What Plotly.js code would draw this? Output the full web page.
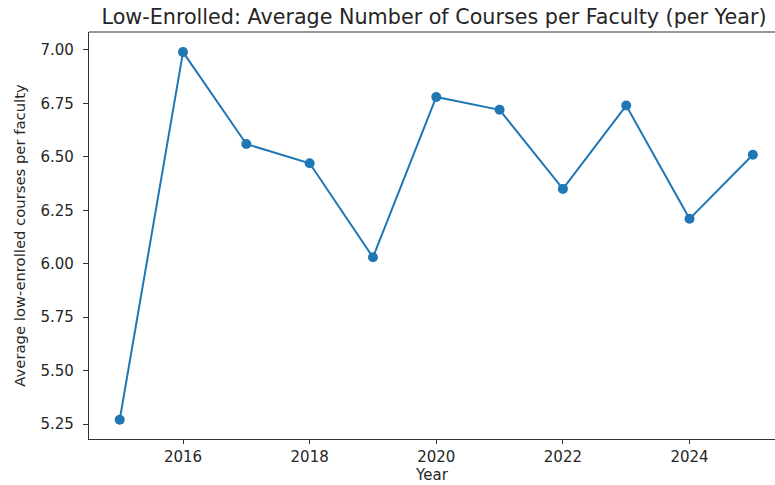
<!DOCTYPE html>
<html>
<head>
<meta charset="utf-8">
<script src="https://cdn.plot.ly/plotly-3.0.1.min.js"></script>
<style>
  html, body { margin: 0; padding: 0; background: #ffffff; }
  #chart { width: 775px; height: 485px; }
</style>
</head>
<body>
<div id="chart"></div>
<script>
// Yearly average of low-enrolled courses per faculty member
const years = [2015, 2016, 2017, 2018, 2019, 2020, 2021, 2022, 2023, 2024, 2025];
const avgCourses = [5.27, 6.99, 6.56, 6.47, 6.03, 6.78, 6.72, 6.35, 6.74, 6.21, 6.51];
const xTickVals = [2016, 2018, 2020, 2022, 2024];
const yTickVals = [5.25, 5.50, 5.75, 6.00, 6.25, 6.50, 6.75, 7.00];
const yTickText = ['5.25', '5.50', '5.75', '6.00', '6.25', '6.50', '6.75', '7.00'];

const FONT = 'DejaVu Sans, sans-serif';
const INK = '#262626';

const trace = {
  x: years,
  y: avgCourses,
  type: 'scatter',
  mode: 'lines+markers',
  line: { color: '#1f77b4', width: 2 },
  marker: { color: '#1f77b4', size: 10 },
  hoverinfo: 'x+y'
};

const layout = {
  width: 775,
  height: 485,
  margin: { l: 89, r: 0, t: 32, b: 46, pad: 0 },
  paper_bgcolor: '#ffffff',
  plot_bgcolor: '#ffffff',
  showlegend: false,
  title: {
    text: 'Low-Enrolled: Average Number of Courses per Faculty (per Year)',
    font: { family: FONT, size: 20.7, color: INK },
    x: 0.56, xanchor: 'center',
    y: 0.965, yanchor: 'middle',
    xref: 'container', yref: 'container'
  },
  xaxis: {
    range: [2014.515, 2025.35],
    tickvals: xTickVals,
    ticktext: xTickVals.map(String),
    ticks: 'outside', ticklen: 4, tickwidth: 1, tickcolor: '#333333',
    tickfont: { family: FONT, size: 15, color: INK },
    showgrid: false, zeroline: false,
    showline: true, linecolor: '#333333', linewidth: 1.2,
    mirror: false,
    title: { text: 'Year', font: { family: FONT, size: 15, color: INK }, standoff: 3 }
  },
  yaxis: {
    range: [5.18, 7.084],
    tickvals: yTickVals,
    ticktext: yTickText,
    ticks: 'outside', ticklen: 5, tickwidth: 1, tickcolor: '#333333',
    ticklabelstandoff: 6,
    tickfont: { family: FONT, size: 15, color: INK },
    showgrid: false, zeroline: false,
    showline: true, linecolor: '#333333', linewidth: 1.2,
    title: { text: 'Average low-enrolled courses per faculty', font: { family: FONT, size: 14.8, color: INK }, standoff: 11 }
  },
  shapes: [
    { type: 'line', xref: 'paper', yref: 'paper', x0: 0, x1: 1, y0: 1, y1: 1,
      line: { color: '#333333', width: 1.2 } }
  ]
};

Plotly.newPlot('chart', [trace], layout, { displayModeBar: false, staticPlot: true });
</script>
</body>
</html>
